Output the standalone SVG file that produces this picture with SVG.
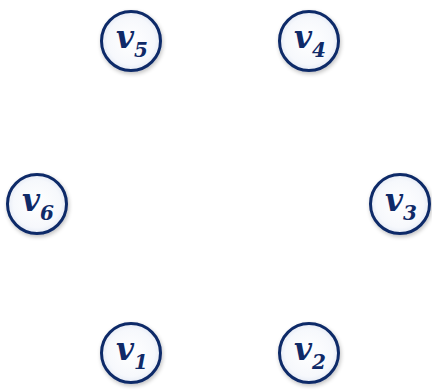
<svg xmlns="http://www.w3.org/2000/svg" width="432" height="390" viewBox="0 0 432 390">
<defs>
<radialGradient id="g" cx="50%" cy="50%" r="50%">
<stop offset="0%" stop-color="#ffffff"/>
<stop offset="80%" stop-color="#f6f8fc"/>
<stop offset="100%" stop-color="#e6ebf5"/>
</radialGradient>
<filter id="s" x="-30%" y="-30%" width="160%" height="160%">
<feGaussianBlur in="SourceAlpha" stdDeviation="2"/>
<feOffset dx="1" dy="2"/>
<feComponentTransfer><feFuncA type="linear" slope="0.25"/></feComponentTransfer>
<feMerge><feMergeNode/><feMergeNode in="SourceGraphic"/></feMerge>
</filter>
</defs>
<style>
.n circle{fill:url(#g);stroke:#0f2a68;stroke-width:3;filter:url(#s)}
.n text{font-family:'DejaVu Serif',serif;font-style:italic;font-weight:bold;fill:#0f2a68;text-anchor:middle}
.v{font-size:31px}
.sub{font-size:20px}
</style>
<rect width="432" height="390" fill="#ffffff"/>
<g id="connectors"></g>
<g id="v1" class="n"><circle cx="131" cy="353" r="29.5"/><text x="132" y="360"><tspan class="v">v</tspan><tspan class="sub" dy="9">1</tspan></text></g>
<g id="v2" class="n"><circle cx="309" cy="353" r="29.5"/><text x="310" y="360"><tspan class="v">v</tspan><tspan class="sub" dy="9">2</tspan></text></g>
<g id="v3" class="n"><circle cx="400" cy="204" r="29.5"/><text x="401" y="211"><tspan class="v">v</tspan><tspan class="sub" dy="9">3</tspan></text></g>
<g id="v4" class="n"><circle cx="309" cy="41" r="29.5"/><text x="310" y="48"><tspan class="v">v</tspan><tspan class="sub" dy="9">4</tspan></text></g>
<g id="v5" class="n"><circle cx="131" cy="41" r="29.5"/><text x="132" y="48"><tspan class="v">v</tspan><tspan class="sub" dy="9">5</tspan></text></g>
<g id="v6" class="n"><circle cx="37" cy="204" r="29.5"/><text x="38" y="211"><tspan class="v">v</tspan><tspan class="sub" dy="9">6</tspan></text></g>
</svg>
